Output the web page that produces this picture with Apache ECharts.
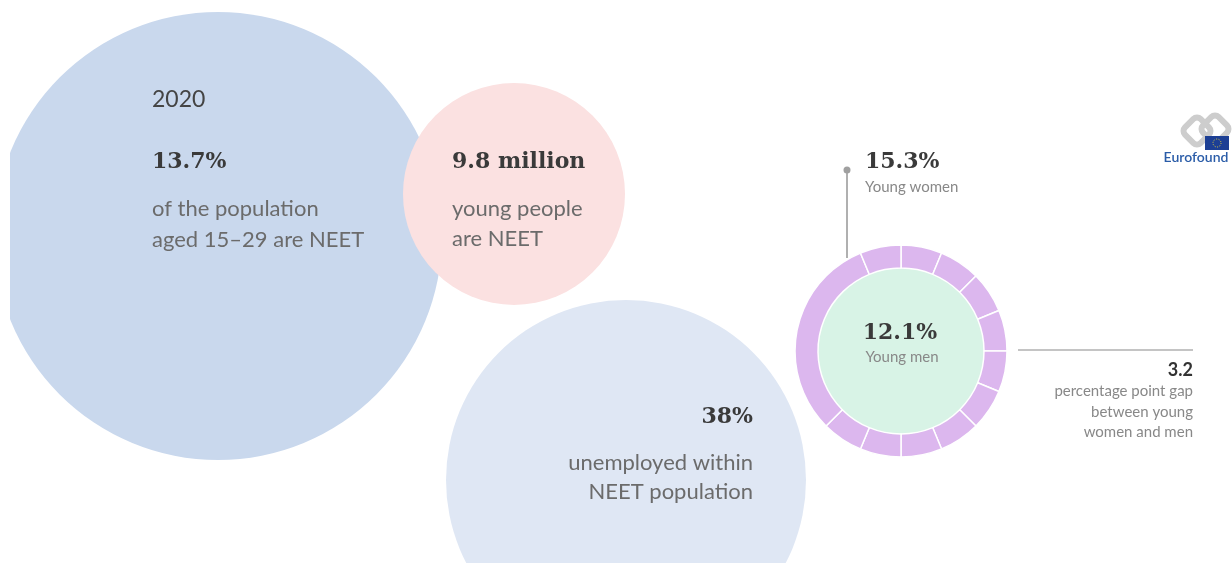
<!DOCTYPE html>
<html>
<head>
<meta charset="utf-8">
<script src="https://cdn.jsdelivr.net/npm/echarts@6/dist/echarts.min.js"></script>
<style>
  html, body { margin: 0; padding: 0; background: #fff; }
  #chart-container { width: 1232px; height: 563px; }
</style>
</head>
<body>
<div id="chart-container"></div>
<script>
// figures shown on the page
const year = '2020';
const headlines = ['13.7%', '9.8 million', '38%'];
const captions = [
    ['of the population', 'aged 15–29 are NEET'],
    ['young people', 'are NEET'],
    ['unemployed within', 'NEET population']
];
const womenRate = 15.3;
const menRate = 12.1;
const gapPoints = 3.2;
const gapCaption = ['percentage point gap', 'between young', 'women and men'];
// ring pieces, clockwise from 12 o'clock
const ringSegments = [1, 1, 1, 1, 1, 1, 1, 1, 1, 1, 5, 1];

// layout (pixel space of the hidden axes)
const bubbleCenters = [[218, 236], [514, 194], [626, 480]];
const bubbleDiameters = [448, 222, 360];
const bubbleColors = ['#c9d8ed', '#fbe1e1', '#dfe7f4'];
const ringCenter = [901, 351];

const SERIF = '"DejaVu Serif", serif';
const SANS = 'Lato, "Open Sans", sans-serif';

const chart = echarts.init(document.querySelector('#chart-container'), null, { renderer: 'canvas' });

function txt(x, y, text, font, fill, align) {
    return {
        type: 'text', x: x, y: y, z: 100,
        style: { text: text, font: font, fill: fill, textAlign: align || 'left', textVerticalAlign: 'middle' }
    };
}

const graphics = [
    // white strip on the left edge
    { type: 'rect', z: 90, shape: { x: 0, y: 0, width: 10, height: 563 }, style: { fill: '#fff' } },

    txt(152, 100, year, '23px ' + SANS, '#444'),
    txt(152, 162, headlines[0], 'bold 22px ' + SERIF, '#3a3a3a'),
    txt(152, 209, captions[0][0], '22px ' + SANS, '#6b6b6b'),
    txt(152, 240, captions[0][1], '22px ' + SANS, '#6b6b6b'),

    txt(452, 162, headlines[1], 'bold 22px ' + SERIF, '#3a3a3a'),
    txt(452, 209, captions[1][0], '22px ' + SANS, '#6b6b6b'),
    txt(452, 239, captions[1][1], '22px ' + SANS, '#6b6b6b'),

    txt(753, 417, headlines[2], 'bold 22px ' + SERIF, '#3a3a3a', 'right'),
    txt(753, 463, captions[2][0], '22px ' + SANS, '#6b6b6b', 'right'),
    txt(753, 492, captions[2][1], '22px ' + SANS, '#6b6b6b', 'right'),

    // women label + leader
    { type: 'line', z: 80, shape: { x1: 847, y1: 170, x2: 847, y2: 258 }, style: { stroke: '#b0b0b0', lineWidth: 2 } },
    { type: 'circle', z: 81, shape: { cx: 847, cy: 170, r: 3.5 }, style: { fill: '#a0a0a0' } },
    txt(865, 162, womenRate.toFixed(1) + '%', 'bold 22px ' + SERIF, '#3a3a3a'),
    txt(865, 187, 'Young women', '15px ' + SANS, '#888'),

    // men label in the middle
    txt(900, 333, menRate.toFixed(1) + '%', 'bold 22px ' + SERIF, '#3a3a3a', 'center'),
    txt(902, 357, 'Young men', '15px ' + SANS, '#888', 'center'),

    // gap
    { type: 'line', z: 80, shape: { x1: 1018, y1: 350, x2: 1193, y2: 350 }, style: { stroke: '#b0b0b0', lineWidth: 1.5 } },
    txt(1193, 370, gapPoints.toFixed(1), 'bold 18px ' + SANS, '#333', 'right'),
    txt(1193, 391, gapCaption[0], '15px ' + SANS, '#888', 'right'),
    txt(1193, 412, gapCaption[1], '15px ' + SANS, '#888', 'right'),
    txt(1193, 432, gapCaption[2], '15px ' + SANS, '#888', 'right'),

    // logo
    { type: 'rect', z: 80, x: 1197, y: 131, rotation: Math.PI / 4, shape: { x: -11, y: -11, width: 22, height: 22, r: 5 }, style: { fill: 'none', stroke: '#cdcdcd', lineWidth: 6 } },
    { type: 'rect', z: 80, x: 1215, y: 129, rotation: Math.PI / 4, shape: { x: -11, y: -11, width: 22, height: 22, r: 5 }, style: { fill: 'none', stroke: '#cdcdcd', lineWidth: 6 } },
    { type: 'rect', z: 81, shape: { x: 1205, y: 136, width: 24, height: 14 }, style: { fill: '#1d3f94' } },
    { type: 'circle', z: 82, shape: { cx: 1217, cy: 143, r: 4 }, style: { fill: 'none', stroke: '#e8d23a', lineWidth: 1, lineDash: [1, 1.5] } },
    txt(1196, 157, 'Eurofound', '600 14px ' + SANS, '#2a5ca8', 'center')
];

chart.setOption({
    animation: false,
    grid: { left: 0, right: 0, top: 0, bottom: 0 },
    xAxis: { type: 'value', min: 0, max: 1232, show: false },
    yAxis: { type: 'value', min: 0, max: 563, inverse: true, show: false },
    series: [
        {
            type: 'scatter',
            clip: false,
            z: 1,
            data: bubbleCenters.map(function (c, i) {
                return {
                    value: c,
                    symbolSize: bubbleDiameters[i],
                    itemStyle: { color: bubbleColors[i], opacity: 1 }
                };
            })
        },
        {
            type: 'pie',
            z: 2,
            center: ringCenter,
            radius: [0, 84],
            silent: true,
            label: { show: false },
            itemStyle: { color: '#d8f3e6' },
            data: [menRate]
        },
        {
            type: 'pie',
            z: 3,
            center: ringCenter,
            radius: [83, 106],
            startAngle: 90,
            clockwise: true,
            silent: true,
            label: { show: false },
            labelLine: { show: false },
            itemStyle: { color: '#dcb7ee', borderColor: '#fff', borderWidth: 1.5 },
            data: ringSegments
        }
    ],
    graphic: graphics
});
</script>
</body>
</html>
